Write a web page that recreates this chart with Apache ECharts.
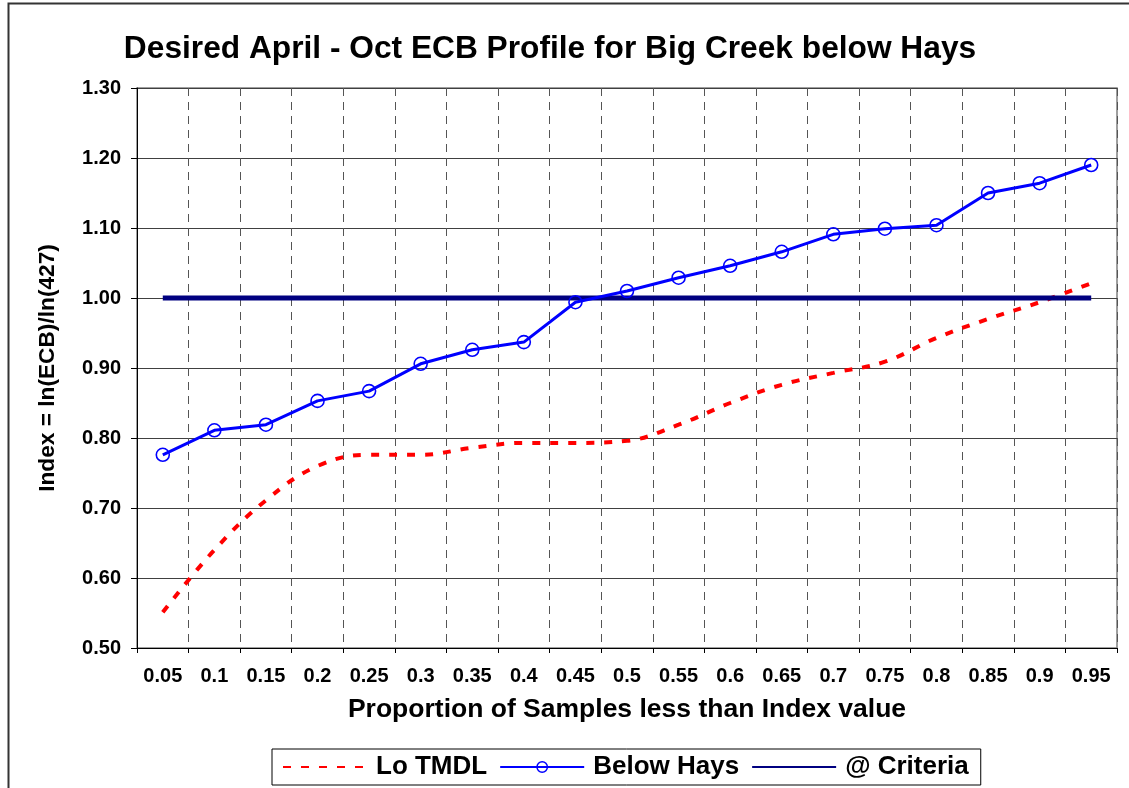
<!DOCTYPE html>
<html>
<head>
<meta charset="utf-8">
<script src="https://cdn.jsdelivr.net/npm/echarts@6/dist/echarts.min.js"></script>
<style>
  html, body { margin: 0; padding: 0; background: #fff; }
  #chart { width: 1129px; height: 788px; }
</style>
</head>
<body>
<div id="chart"></div>
<script>
// x categories (proportion of samples)
var proportions = ['0.05', '0.1', '0.15', '0.2', '0.25', '0.3', '0.35', '0.4', '0.45', '0.5',
  '0.55', '0.6', '0.65', '0.7', '0.75', '0.8', '0.85', '0.9', '0.95']
// Lo TMDL (red dashed, smoothed)
var loTmdl = [0.551, 0.640, 0.711, 0.760, 0.776, 0.776, 0.786, 0.793, 0.793, 0.796,
  0.819, 0.850, 0.876, 0.893, 0.909, 0.943, 0.970, 0.994, 1.021]
// Below Hays (blue with circles)
var belowHays = [0.776, 0.811, 0.819, 0.853, 0.867, 0.906, 0.926, 0.937, 0.994, 1.010,
  1.029, 1.046, 1.066, 1.091, 1.099, 1.104, 1.150, 1.164, 1.190]
// @ Criteria
var criteria = [1, 1, 1, 1, 1, 1, 1, 1, 1, 1, 1, 1, 1, 1, 1, 1, 1, 1, 1]

var font = 'Liberation Sans, Arial, sans-serif'
var chart = echarts.init(document.getElementById('chart'))

chart.setOption({
  animation: false,
  backgroundColor: '#fff',
  title: {
    text: 'Desired April - Oct ECB Profile for Big Creek below Hays',
    left: 545,
    textAlign: 'center',
    top: 28,
    textStyle: { fontFamily: font, fontWeight: 'bold', fontSize: 31.7, color: '#000' }
  },
  // outer chart frame
  graphic: [{
    type: 'rect',
    shape: { x: 8.5, y: 3.5, width: 1140, height: 800 },
    style: { fill: 'none', stroke: '#333', lineWidth: 2 },
    silent: true,
    z: -1
  }],
  grid: {
    left: 137,
    top: 88,
    right: 12,
    bottom: 140,
    show: true,
    borderColor: '#808080',
    borderWidth: 1.5
  },
  legend: {
    left: 272,
    top: 749,
    itemWidth: 84,
    itemHeight: 13,
    itemGap: 12,
    padding: [5, 12, 5, 10],
    borderColor: '#000',
    borderWidth: 1,
    textStyle: { fontFamily: font, fontWeight: 'bold', fontSize: 26, color: '#000', padding: [0, 0, 0, 4] },
    data: [
      { name: 'Lo TMDL', itemStyle: { opacity: 0 } },
      { name: 'Below Hays', itemStyle: { color: 'rgba(0,0,0,0)', borderColor: '#0000ff', borderWidth: 1.5 } },
      { name: '@ Criteria', itemStyle: { opacity: 0 } }
    ]
  },
  xAxis: {
    type: 'category',
    data: proportions,
    boundaryGap: true,
    name: 'Proportion of Samples less than Index value',
    nameLocation: 'middle',
    nameGap: 48,
    nameTextStyle: { fontFamily: font, fontWeight: 'bold', fontSize: 26.5, color: '#000' },
    axisLine: { lineStyle: { color: '#000', width: 1 } },
    axisTick: { show: true, interval: 0, length: 5, lineStyle: { color: '#000' } },
    axisLabel: { interval: 0, margin: 18, fontFamily: font, fontWeight: 'bold', fontSize: 20, color: '#000' },
    splitLine: { show: true, interval: 0, lineStyle: { color: '#555', type: [8, 6], width: 1 } }
  },
  yAxis: {
    type: 'value',
    min: 0.5,
    max: 1.3,
    interval: 0.1,
    name: 'Index = ln(ECB)/ln(427)',
    nameLocation: 'middle',
    nameGap: 78,
    nameTextStyle: { fontFamily: font, fontWeight: 'bold', fontSize: 22.7, color: '#000' },
    axisLine: { show: true, lineStyle: { color: '#000', width: 1 } },
    axisTick: { show: true, length: 6, lineStyle: { color: '#000' } },
    axisLabel: {
      margin: 16,
      fontFamily: font, fontWeight: 'bold', fontSize: 20, color: '#000',
      formatter: function (v) { return v.toFixed(2) }
    },
    splitLine: { show: true, lineStyle: { color: '#404040', width: 1 } }
  },
  series: [
    {
      name: 'Lo TMDL',
      type: 'line',
      data: loTmdl,
      smooth: 0.4,
      symbol: 'none',
      itemStyle: { color: '#ff0000' },
      lineStyle: { color: '#ff0000', width: 4, type: [8, 10] },
      z: 2
    },
    {
      name: 'Below Hays',
      type: 'line',
      data: belowHays,
      symbol: 'circle',
      symbolSize: 13,
      itemStyle: { color: 'rgba(0,0,0,0)', borderColor: '#0000ff', borderWidth: 1.6 },
      lineStyle: { color: '#0000ff', width: 3 },
      z: 4
    },
    {
      name: '@ Criteria',
      type: 'line',
      data: criteria,
      symbol: 'none',
      itemStyle: { color: '#000080' },
      lineStyle: { color: '#000080', width: 5 },
      z: 3
    }
  ]
})
</script>
</body>
</html>
